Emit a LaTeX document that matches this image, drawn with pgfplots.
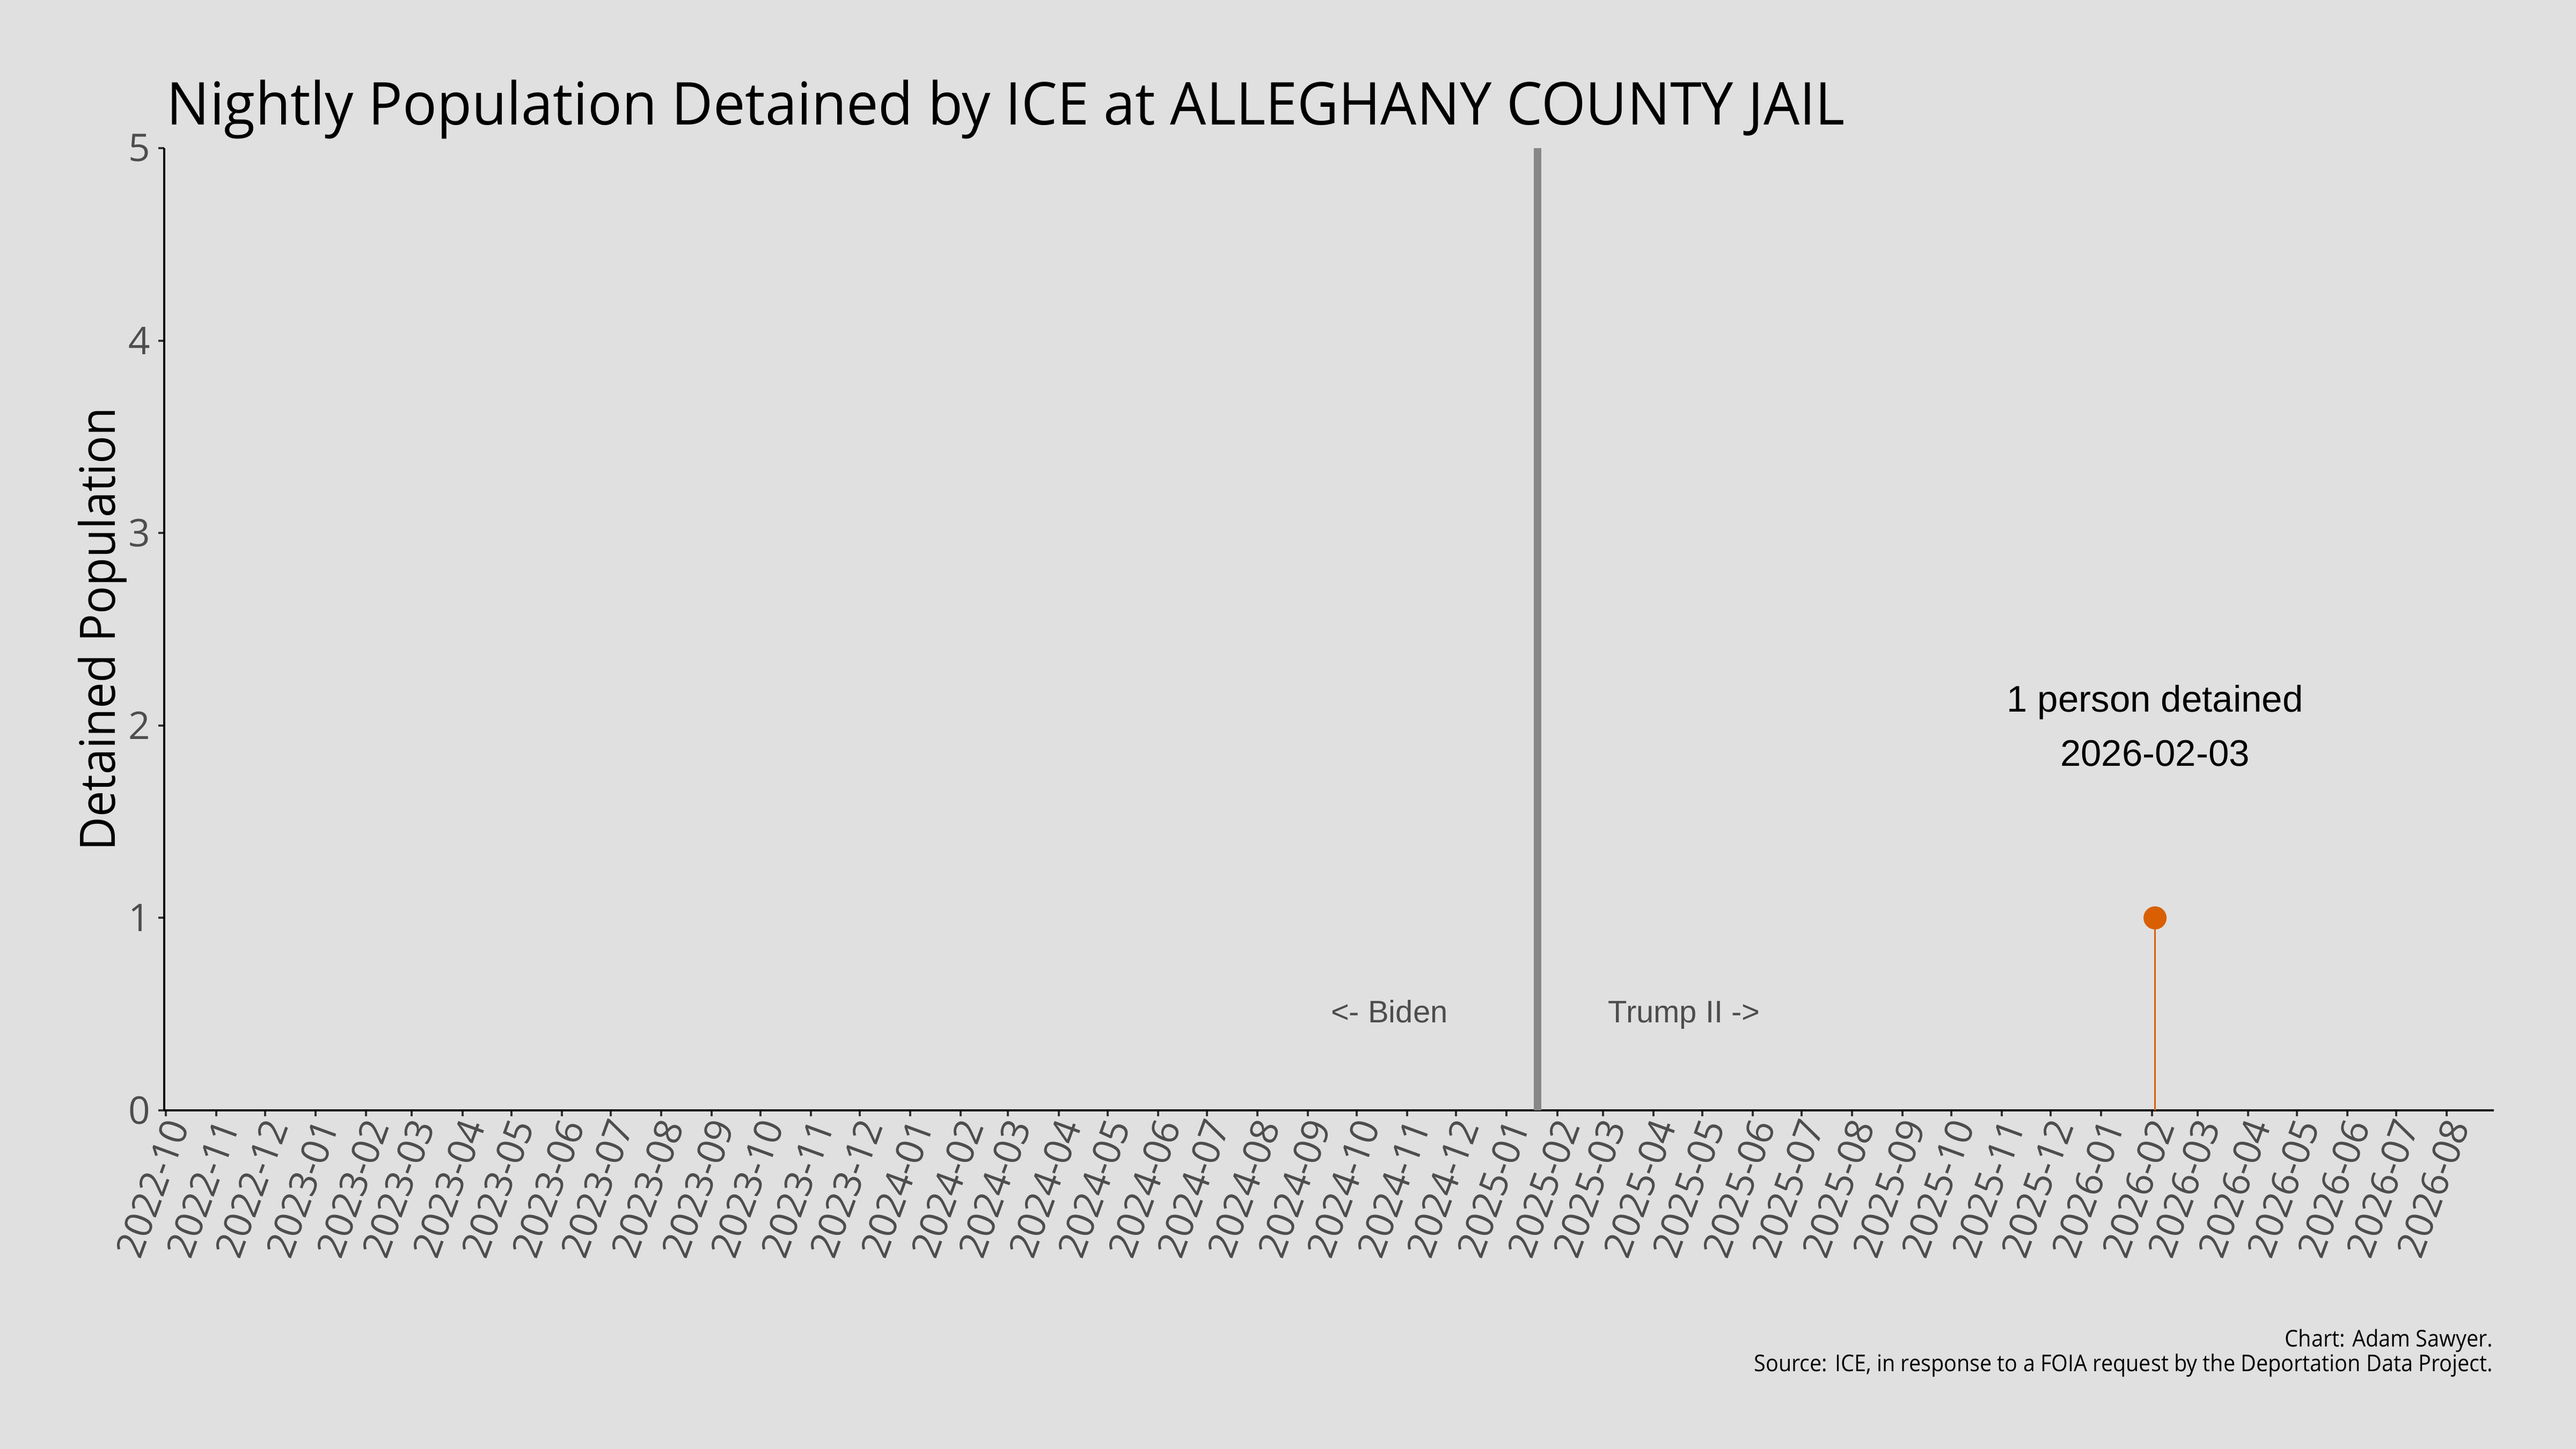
\documentclass[border=0pt]{standalone}
\usepackage{pgfplots}
\pgfplotsset{compat=1.18}
\usepackage{fontspec}
\setmainfont{Open Sans}[FakeStretch=0.92]
\newfontfamily\titlefont{Open Sans}[FakeStretch=0.965]
\newfontfamily\ylabfont{Open Sans}[FakeStretch=0.95]
\newfontfamily\tickfont{Open Sans}
\newfontfamily\arialfont{Liberation Sans}
\definecolor{bgc}{HTML}{E0E0E0}
\definecolor{ticktext}{HTML}{4D4D4D}
\definecolor{tickmark}{HTML}{333333}
\definecolor{vline}{HTML}{878787}
\definecolor{detorange}{HTML}{D95F02}

\begin{document}
\begin{tikzpicture}
\path[use as bounding box, fill=bgc] (0,0) rectangle (480pt,270pt);

\begin{axis}[
  at={(30.6pt,63.1pt)}, anchor=south west,
  scale only axis, width=434.1pt, height=179.3pt,
  xmin=-1, xmax=1429, ymin=0, ymax=5,
  axis x line=bottom, axis y line=left,
  axis line style={black, line width=0.4pt, -},
  tick align=outside, major tick length=1.1pt,
  tick style={tickmark, line width=0.4pt},
  xtick={0,31,61,92,123,151,182,212,243,273,304,335,365,396,426,457,488,517,548,578,609,639,670,701,731,762,792,823,854,882,913,943,974,1004,1035,1066,1096,1127,1157,1188,1219,1247,1278,1308,1339,1369,1400},
  xticklabels={2022-10,2022-11,2022-12,2023-01,2023-02,2023-03,2023-04,2023-05,2023-06,2023-07,2023-08,2023-09,2023-10,2023-11,2023-12,2024-01,2024-02,2024-03,2024-04,2024-05,2024-06,2024-07,2024-08,2024-09,2024-10,2024-11,2024-12,2025-01,2025-02,2025-03,2025-04,2025-05,2025-06,2025-07,2025-08,2025-09,2025-10,2025-11,2025-12,2026-01,2026-02,2026-03,2026-04,2026-05,2026-06,2026-07,2026-08},
  ytick={0,1,2,3,4,5},
  /pgf/number format/assume math mode=true,
  ticklabel style={font=\tickfont\fontsize{7.1}{8}\selectfont, text=ticktext},
  xticklabel style={rotate=70, anchor=east, inner sep=0pt, yshift=-2.2pt},
  yticklabel style={anchor=east, inner sep=0pt, xshift=-1.3pt},
  ylabel={Detained Population},
  every axis y label/.style={at={(axis description cs:0,0.5)}, xshift=-9.1pt, rotate=90, anchor=base, font=\ylabfont\fontsize{9.1}{10}\selectfont},
  clip=false,
]
% inauguration day, 2025-01-20
\addplot[vline, line width=1.4pt] coordinates {(842,0) (842,5)};
% nightly population (only non-zero night: 2026-02-03)
\addplot[detorange, line width=0.3pt, ycomb, mark=*, mark size=2pt,
  mark options={fill=detorange, draw=detorange}] coordinates {(1221,1)};

\node[anchor=base, font=\arialfont\fontsize{5.8}{7}\selectfont, text=ticktext] at (axis cs:751,0.457) {<- Biden};
\node[anchor=base, font=\arialfont\fontsize{5.8}{7}\selectfont, text=ticktext] at (axis cs:932,0.457) {Trump II ->};
\node[anchor=base, font=\arialfont\fontsize{6.9}{8}\selectfont] at (axis cs:1221,2.07) {1 person detained};
\node[anchor=base, font=\arialfont\fontsize{6.9}{8}\selectfont] at (axis cs:1221,1.79) {2026-02-03};
\end{axis}

\node[anchor=base west, inner sep=0pt, font=\titlefont\fontsize{11}{13}\selectfont] at (30.9pt,246.7pt)
  {Nightly Population Detained by ICE at ALLEGHANY COUNTY JAIL};
\node[anchor=base east, inner sep=0pt, font=\fontsize{4.3}{5}\selectfont] at (464.7pt,19pt)
  {Chart: Adam Sawyer.};
\node[anchor=base east, inner sep=0pt, font=\fontsize{4.3}{5}\selectfont] at (464.7pt,14.4pt)
  {Source: ICE, in response to a FOIA request by the Deportation Data Project.};
\end{tikzpicture}
\end{document}
